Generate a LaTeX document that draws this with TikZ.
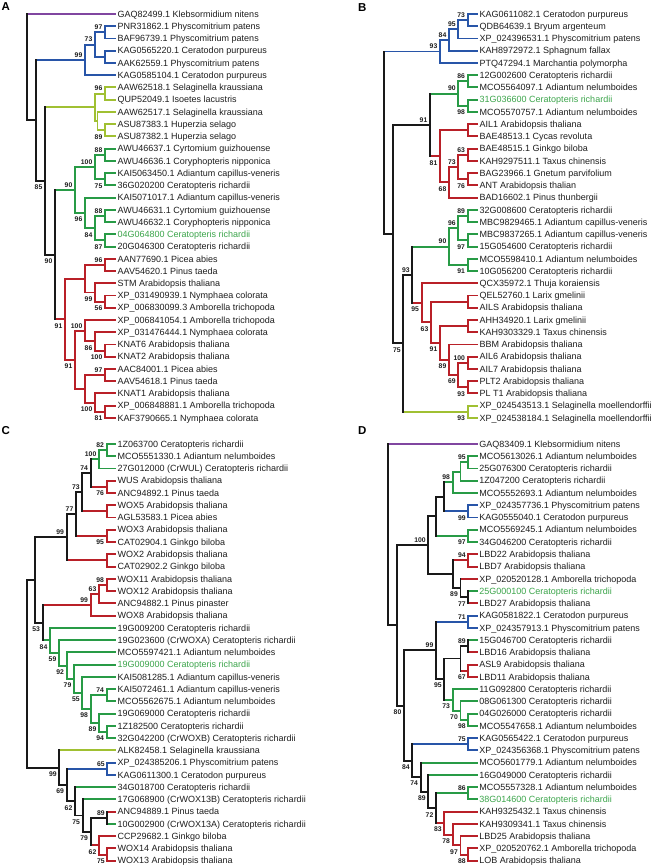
\documentclass[tikz,border=0pt]{standalone}
\usepackage{fontspec}
\setmainfont{Liberation Sans}
\usetikzlibrary{calc}
\definecolor{pur}{RGB}{128,70,160}
\definecolor{blu}{RGB}{40,85,168}
\definecolor{yg}{RGB}{160,192,50}
\definecolor{grn}{RGB}{40,155,70}
\definecolor{rd}{RGB}{185,32,40}
\definecolor{blk}{RGB}{25,25,25}
\definecolor{gtx}{RGB}{60,165,75}
\definecolor{txt}{RGB}{30,30,30}
\newcommand\LF[4]{%
  \coordinate (#1) at (\lfx,{\ybase+\ystep*#2});
  \expandafter\gdef\csname bc-#1\endcsname{#3}%
  \node[lf] (#1t) at (#1) {#4};}
\newcommand\LFG[4]{%
  \coordinate (#1) at (\lfx,{\ybase+\ystep*#2});
  \expandafter\gdef\csname bc-#1\endcsname{#3}%
  \node[lf,text=gtx] (#1t) at (#1) {#4};}
\newcommand\ND[5]{%
  \coordinate (#1m) at ($(#3)!0.5!(#4)$);
  \coordinate (#1) at (#2,0 |- #1m);
  \expandafter\gdef\csname bc-#1\endcsname{#5}%
  \edef\next{\noexpand\draw[br,draw=\csname bc-#3\endcsname] (#1 |- #3) -- (#3);
    \noexpand\draw[br,draw=\csname bc-#4\endcsname] (#1 |- #4) -- (#4);
    \noexpand\draw[br,draw=#5] (#1 |- #3) -- (#1 |- #4);}%
  \next}
\newcommand\BA[2]{\node[bs,xshift=-2.5pt,yshift=5pt] (#1l) at (#1) {#2};}
\newcommand\BB[2]{\node[bs,xshift=-2.5pt,yshift=-6.5pt] (#1l) at (#1) {#2};}
\begin{document}
\begin{tikzpicture}[x=1pt,y=-1pt,
  br/.style={line width=1.9pt,line cap=rect},
  lf/.style={anchor=base west,inner sep=0pt,xshift=2.5pt,yshift=-3.2pt,font=\fontsize{9}{10}\selectfont,text=txt},
  bs/.style={anchor=east,inner sep=0pt,font=\bfseries\fontsize{6.8}{7}\selectfont,text=txt},
  pl/.style={anchor=base west,inner sep=0pt,font=\bfseries\fontsize{11.5}{12}\selectfont,text=black}]
\fill[white] (0,0) rectangle (652,866);
\path[use as bounding box] (0,0) rectangle (652,866);
\node[pl] (pA) at (1.5,10.7) {A};
\node[pl] (pB) at (358,11.7) {B};
\node[pl] (pC) at (1.5,434) {C};
\node[pl] (pD) at (358,434) {D};
% ================= A =================
\def\lfx{115}\def\ybase{14}\def\ystep{12.24}
\LF{a0}{0}{pur}{GAQ82499.1 Klebsormidium nitens}
\LF{a1}{1}{blu}{PNR31862.1 Physcomitrium patens}
\LF{a2}{2}{blu}{BAF96739.1 Physcomitrium patens}
\LF{a3}{3}{blu}{KAG0565220.1 Ceratodon purpureus}
\LF{a4}{4}{blu}{AAK62559.1 Physcomitrium patens}
\LF{a5}{5}{blu}{KAG0585104.1 Ceratodon purpureus}
\LF{a6}{6}{yg}{AAW62518.1 Selaginella kraussiana}
\LF{a7}{7}{yg}{QUP52049.1 Isoetes lacustris}
\LF{a8}{8}{yg}{AAW62517.1 Selaginella kraussiana}
\LF{a9}{9}{yg}{ASU87383.1 Huperzia selago}
\LF{a10}{10}{yg}{ASU87382.1 Huperzia selago}
\LF{a11}{11}{grn}{AWU46637.1 Cyrtomium guizhouense}
\LF{a12}{12}{grn}{AWU46636.1 Coryphopteris nipponica}
\LF{a13}{13}{grn}{KAI5063450.1 Adiantum capillus-veneris}
\LF{a14}{14}{grn}{36G020200 Ceratopteris richardii}
\LF{a15}{15}{grn}{KAI5071017.1 Adiantum capillus-veneris}
\LF{a16}{16}{grn}{AWU46631.1 Cyrtomium guizhouense}
\LF{a17}{17}{grn}{AWU46632.1 Coryphopteris nipponica}
\LFG{a18}{18}{grn}{04G064800 Ceratopteris richardii}
\LF{a19}{19}{grn}{20G046300 Ceratopteris richardii}
\LF{a20}{20}{rd}{AAN77690.1 Picea abies}
\LF{a21}{21}{rd}{AAV54620.1 Pinus taeda}
\LF{a22}{22}{rd}{STM Arabidopsis thaliana}
\LF{a23}{23}{rd}{XP\_031490939.1 Nymphaea colorata}
\LF{a24}{24}{rd}{XP\_006830099.3 Amborella trichopoda}
\LF{a25}{25}{rd}{XP\_006841054.1 Amborella trichopoda}
\LF{a26}{26}{rd}{XP\_031476444.1 Nymphaea colorata}
\LF{a27}{27}{rd}{KNAT6 Arabidopsis thaliana}
\LF{a28}{28}{rd}{KNAT2 Arabidopsis thaliana}
\LF{a29}{29}{rd}{AAC84001.1 Picea abies}
\LF{a30}{30}{rd}{AAV54618.1 Pinus taeda}
\LF{a31}{31}{rd}{KNAT1 Arabidopsis thaliana}
\LF{a32}{32}{rd}{XP\_006848881.1 Amborella trichopoda}
\LF{a33}{33}{rd}{KAF3790665.1 Nymphaea colorata}
\ND{aB3}{105}{a1}{a2}{blu}\BA{aB3}{97}
\ND{aB4}{105}{a3}{a4}{blu}
\ND{aB2}{95}{aB3}{aB4}{blu}\BA{aB2}{73}
\ND{aB1}{85}{aB2}{a5}{blu}\BA{aB1}{99}
\ND{aY2}{105}{a6}{a7}{yg}\BA{aY2}{96}
\ND{aY4}{105}{a9}{a10}{yg}\BB{aY4}{89}
\ND{aY3}{97.5}{a8}{aY4}{yg}
\ND{aY1}{95}{aY2}{aY3}{yg}
\ND{aG3}{105}{a11}{a12}{grn}\BA{aG3}{88}
\ND{aG4}{105}{a13}{a14}{grn}\BB{aG4}{75}
\ND{aG2}{95}{aG3}{aG4}{grn}\BA{aG2}{100}
\ND{aG7}{105}{a16}{a17}{grn}\BA{aG7}{88}
\ND{aG8}{105}{a18}{a19}{grn}\BB{aG8}{87}
\ND{aG6}{95}{aG7}{aG8}{grn}\BB{aG6}{84}
\ND{aG5}{85}{a15}{aG6}{grn}\BB{aG5}{96}
\ND{aG1}{75}{aG2}{aG5}{grn}\BA{aG1}{90}
\ND{aRa}{105}{a20}{a21}{rd}\BA{aRa}{96}
\ND{aRc}{105}{a23}{a24}{rd}\BB{aRc}{56}
\ND{aRb}{95}{a22}{aRc}{rd}\BB{aRb}{99}
\ND{aRab}{85}{aRa}{aRb}{rd}
\ND{aRg}{105}{a27}{a28}{rd}\BB{aRg}{100}
\ND{aRf}{95}{a26}{aRg}{rd}\BB{aRf}{86}
\ND{aRe}{85}{a25}{aRf}{rd}\BA{aRe}{100}
\ND{aRi}{105}{a29}{a30}{rd}\BA{aRi}{97}
\ND{aRk}{105}{a32}{a33}{rd}\BB{aRk}{81}
\ND{aRj}{95}{a31}{aRk}{rd}\BB{aRj}{100}
\ND{aRh}{85}{aRi}{aRj}{rd}
\ND{aRd}{75}{aRe}{aRh}{rd}\BB{aRd}{91}
\ND{aR1}{65}{aRab}{aRd}{rd}\BB{aR1}{91}
\ND{aN3}{55}{aG1}{aR1}{blk}\BB{aN3}{90}
\ND{aN2}{45}{aY1}{aN3}{blk}\BB{aN2}{85}
\ND{aN1}{36}{aB1}{aN2}{blk}
\ND{aR}{27}{a0}{aN1}{blk}
% ================= B =================
\def\lfx{477}\def\ybase{14}\def\ystep{12.24}
\LF{b0}{0}{blu}{KAG0611082.1 Ceratodon purpureus}
\LF{b1}{1}{blu}{QDB64639.1 Bryum argenteum}
\LF{b2}{2}{blu}{XP\_024396531.1 Physcomitrium patens}
\LF{b3}{3}{blu}{KAH8972972.1 Sphagnum fallax}
\LF{b4}{4}{blu}{PTQ47294.1 Marchantia polymorpha}
\LF{b5}{5}{grn}{12G002600 Ceratopteris richardii}
\LF{b6}{6}{grn}{MCO5564097.1 Adiantum nelumboides}
\LFG{b7}{7}{grn}{31G036600 Ceratopteris richardii}
\LF{b8}{8}{grn}{MCO5570757.1 Adiantum nelumboides}
\LF{b9}{9}{rd}{AIL1 Arabidopsis thaliana}
\LF{b10}{10}{rd}{BAE48513.1 Cycas revoluta}
\LF{b11}{11}{rd}{BAE48515.1 Ginkgo biloba}
\LF{b12}{12}{rd}{KAH9297511.1 Taxus chinensis}
\LF{b13}{13}{rd}{BAG23966.1 Gnetum parvifolium}
\LF{b14}{14}{rd}{ANT Arabidopsis thalian}
\LF{b15}{15}{rd}{BAD16602.1 Pinus thunbergii}
\LF{b16}{16}{grn}{32G008600 Ceratopteris richardii}
\LF{b17}{17}{grn}{MBC9829465.1 Adiantum capillus-veneris}
\LF{b18}{18}{grn}{MBC9837265.1 Adiantum capillus-veneris}
\LF{b19}{19}{grn}{15G054600 Ceratopteris richardii}
\LF{b20}{20}{grn}{MCO5598410.1 Adiantum nelumboides}
\LF{b21}{21}{grn}{10G056200 Ceratopteris richardii}
\LF{b22}{22}{rd}{QCX35972.1 Thuja koraiensis}
\LF{b23}{23}{rd}{QEL52760.1 Larix gmelinii}
\LF{b24}{24}{rd}{AILS Arabidopsis thaliana}
\LF{b25}{25}{rd}{AHH34920.1 Larix gmelinii}
\LF{b26}{26}{rd}{KAH9303329.1 Taxus chinensis}
\LF{b27}{27}{rd}{BBM Arabidopsis thaliana}
\LF{b28}{28}{rd}{AIL6 Arabidopsis thaliana}
\LF{b29}{29}{rd}{AIL7 Arabidopsis thaliana}
\LF{b30}{30}{rd}{PLT2 Arabidopsis thaliana}
\LF{b31}{31}{rd}{PL T1 Arabidopsis thaliana}
\LF{b32}{32}{yg}{XP\_024543513.1 Selaginella moellendorffii}
\LF{b33}{33}{yg}{XP\_024538184.1 Selaginella moellendorffii}
\ND{bb1}{467.7}{b0}{b1}{blu}\BA{bb1}{73}
\ND{bb2}{458.3}{bb1}{b2}{blu}\BA{bb2}{95}
\ND{bb3}{449}{bb2}{b3}{blu}\BA{bb3}{84}
\ND{bb4}{440}{bb3}{b4}{blu}\BA{bb4}{93}
\ND{bg2}{467.7}{b5}{b6}{grn}\BA{bg2}{86}
\ND{bg3}{467.7}{b7}{b8}{grn}\BB{bg3}{98}
\ND{bg1}{458.3}{bg2}{bg3}{grn}\BA{bg1}{90}
\ND{br2}{467.7}{b9}{b10}{rd}
\ND{br5}{467.7}{b11}{b12}{rd}\BA{br5}{63}
\ND{br6}{467.7}{b13}{b14}{rd}\BB{br6}{76}
\ND{br4}{458.3}{br5}{br6}{rd}\BA{br4}{73}
\ND{br3}{449}{br4}{b15}{rd}\BB{br3}{68}
\ND{br1}{440}{br2}{br3}{rd}\BB{br1}{81}
\ND{bQ}{430}{bg1}{br1}{blk}\BA{bQ}{91}
\ND{bgg3}{467.7}{b16}{b17}{grn}\BA{bgg3}{89}
\ND{bgg4}{467.7}{b18}{b19}{grn}\BB{bgg4}{97}
\ND{bgg2}{458.3}{bgg3}{bgg4}{grn}\BA{bgg2}{96}
\ND{bgg5}{467.7}{b20}{b21}{grn}\BB{bgg5}{91}
\ND{bgg1}{449}{bgg2}{bgg5}{grn}\BA{bgg1}{90}
\ND{brr3}{467.7}{b23}{b24}{rd}
\ND{brr5}{467.7}{b25}{b26}{rd}
\ND{brr8}{467.7}{b28}{b29}{rd}\BA{brr8}{100}
\ND{brr9}{467.7}{b30}{b31}{rd}\BB{brr9}{93}
\ND{brr7}{458.3}{brr8}{brr9}{rd}\BB{brr7}{69}
\ND{brr6}{449}{b27}{brr7}{rd}\BB{brr6}{89}
\ND{brr4}{440}{brr5}{brr6}{rd}\BB{brr4}{91}
\ND{brr2}{431}{brr3}{brr4}{rd}\BB{brr2}{63}
\ND{brr1}{421.7}{b22}{brr2}{rd}\BB{brr1}{95}
\ND{bT}{412.3}{bgg1}{brr1}{blk}\BA{bT}{93}
\ND{bsel}{467.7}{b32}{b33}{yg}\BB{bsel}{93}
\ND{bS}{403.3}{bT}{bsel}{blk}\BB{bS}{75}
\ND{bP}{393.3}{bQ}{bS}{blk}
\ND{bR}{384.3}{bb4}{bP}{blk}
% ================= C =================
\def\lfx{115}\def\ybase{444}\def\ystep{12.255}
\LF{c0}{0}{grn}{1Z063700 Ceratopteris richardii}
\LF{c1}{1}{grn}{MCO5551330.1 Adiantum nelumboides}
\LF{c2}{2}{grn}{27G012000 (CrWUL) Ceratopteris richardii}
\LF{c3}{3}{rd}{WUS Arabidopsis thaliana}
\LF{c4}{4}{rd}{ANC94892.1 Pinus taeda}
\LF{c5}{5}{rd}{WOX5 Arabidopsis thaliana}
\LF{c6}{6}{rd}{AGL53583.1 Picea abies}
\LF{c7}{7}{rd}{WOX3 Arabidopsis thaliana}
\LF{c8}{8}{rd}{CAT02904.1 Ginkgo biloba}
\LF{c9}{9}{rd}{WOX2 Arabidopsis thaliana}
\LF{c10}{10}{rd}{CAT02902.2 Ginkgo biloba}
\LF{c11}{11}{rd}{WOX11 Arabidopsis thaliana}
\LF{c12}{12}{rd}{WOX12 Arabidopsis thaliana}
\LF{c13}{13}{rd}{ANC94882.1 Pinus pinaster}
\LF{c14}{14}{rd}{WOX8 Arabidopsis thaliana}
\LF{c15}{15}{grn}{19G009200 Ceratopteris richardii}
\LF{c16}{16}{grn}{19G023600 (CrWOXA) Ceratopteris richardii}
\LF{c17}{17}{grn}{MCO5597421.1 Adiantum nelumboides}
\LFG{c18}{18}{grn}{19G009000 Ceratopteris richardii}
\LF{c19}{19}{grn}{KAI5081285.1 Adiantum capillus-veneris}
\LF{c20}{20}{grn}{KAI5072461.1 Adiantum capillus-veneris}
\LF{c21}{21}{grn}{MCO5562675.1 Adiantum nelumboides}
\LF{c22}{22}{grn}{19G069000 Ceratopteris richardii}
\LF{c23}{23}{grn}{1Z182500 Ceratopteris richardii}
\LF{c24}{24}{grn}{32G042200 (CrWOXB) Ceratopteris richardii}
\LF{c25}{25}{yg}{ALK82458.1 Selaginella kraussiana}
\LF{c26}{26}{blu}{XP\_024385206.1 Physcomitrium patens}
\LF{c27}{27}{blu}{KAG0611300.1 Ceratodon purpureus}
\LF{c28}{28}{grn}{34G018700 Ceratopteris richardii}
\LF{c29}{29}{grn}{17G068900 (CrWOX13B) Ceratopteris richardii}
\LF{c30}{30}{rd}{ANC94889.1 Pinus taeda}
\LF{c31}{31}{grn}{10G002900 (CrWOX13A) Ceratopteris richardii}
\LF{c32}{32}{rd}{CCP29682.1 Ginkgo biloba}
\LF{c33}{33}{rd}{WOX14 Arabidopsis thaliana}
\LF{c34}{34}{rd}{WOX13 Arabidopsis thaliana}
\ND{cg2}{106.7}{c0}{c1}{grn}\BA{cg2}{82}
\ND{cg1}{99}{cg2}{c2}{grn}\BA{cg1}{100}
\ND{cr1}{106.7}{c3}{c4}{rd}\BB{cr1}{76}
\ND{cn1}{90.7}{cg1}{cr1}{blk}\BA{cn1}{74}
\ND{cr2}{106.7}{c5}{c6}{rd}
\ND{cn2}{82.3}{cn1}{cr2}{blk}\BA{cn2}{73}
\ND{cr3}{106.7}{c7}{c8}{rd}\BB{cr3}{95}
\ND{cn3}{76}{cn2}{cr3}{blk}\BA{cn3}{77}
\ND{cr4}{106.7}{c9}{c10}{rd}
\ND{cn4}{66.7}{cn3}{cr4}{blk}\BA{cn4}{99}
\ND{cr5}{106.7}{c11}{c12}{rd}\BA{cr5}{98}
\ND{cr6}{99}{cr5}{c13}{rd}\BA{cr6}{63}
\ND{cr7}{90.7}{cr6}{c14}{rd}\BA{cr7}{99}
\ND{cgi}{106.7}{c23}{c24}{grn}\BB{cgi}{94}
\ND{cgh}{99}{c22}{cgi}{grn}\BB{cgh}{89}
\ND{cgg}{106.7}{c20}{c21}{grn}\BA{cgg}{74}
\ND{cgf}{90.7}{cgg}{cgh}{grn}\BB{cgf}{98}
\ND{cge}{82.3}{c19}{cgf}{grn}\BB{cge}{55}
\ND{cgd}{74}{c18}{cge}{grn}\BB{cgd}{79}
\ND{cgc}{66.7}{c17}{cgd}{grn}\BB{cgc}{92}
\ND{cgb}{59}{c16}{cgc}{grn}\BB{cgb}{59}
\ND{cga}{50}{c15}{cgb}{grn}\BB{cga}{84}
\ND{cn5}{42.7}{cr7}{cga}{blk}\BB{cn5}{53}
\ND{cn6}{35}{cn4}{cn5}{blk}
\ND{cc14}{107.3}{c33}{c34}{rd}\BB{cc14}{75}
\ND{cc13}{99}{c32}{cc14}{rd}\BB{cc13}{62}
\ND{cc12}{107.3}{c30}{c31}{blk}\BA{cc12}{89}
\ND{cc11}{90.7}{cc12}{cc13}{blk}\BB{cc11}{79}
\ND{cc10}{82.7}{c29}{cc11}{blk}\BB{cc10}{75}
\ND{cc9}{75}{c28}{cc10}{blk}\BB{cc9}{62}
\ND{ccb}{107.3}{c26}{c27}{blu}\BA{ccb}{65}
\ND{cc8}{66.7}{ccb}{cc9}{blk}\BB{cc8}{69}
\ND{cc7}{59.3}{c25}{cc8}{blk}\BB{cc7}{99}
\ND{cR}{26.7}{cn6}{cc7}{blk}
% ================= D =================
\def\lfx{476.7}\def\ybase{444}\def\ystep{12.255}
\LF{d0}{0}{pur}{GAQ83409.1 Klebsormidium nitens}
\LF{d1}{1}{grn}{MCO5613026.1 Adiantum nelumboides}
\LF{d2}{2}{grn}{25G076300 Ceratopteris richardii}
\LF{d3}{3}{grn}{1Z047200 Ceratopteris richardii}
\LF{d4}{4}{grn}{MCO5552693.1 Adiantum nelumboides}
\LF{d5}{5}{blu}{XP\_024357736.1 Physcomitrium patens}
\LF{d6}{6}{blu}{KAG0555040.1 Ceratodon purpureus}
\LF{d7}{7}{grn}{MCO5569245.1 Adiantum nelumboides}
\LF{d8}{8}{grn}{34G046200 Ceratopteris richardii}
\LF{d9}{9}{rd}{LBD22 Arabidopsis thaliana}
\LF{d10}{10}{rd}{LBD7 Arabidopsis thaliana}
\LF{d11}{11}{rd}{XP\_020520128.1 Amborella trichopoda}
\LFG{d12}{12}{grn}{25G000100 Ceratopteris richardii}
\LF{d13}{13}{rd}{LBD27 Arabidopsis thaliana}
\LF{d14}{14}{blu}{KAG0581822.1 Ceratodon purpureus}
\LF{d15}{15}{blu}{XP\_024357913.1 Physcomitrium patens}
\LF{d16}{16}{grn}{15G046700 Ceratopteris richardii}
\LF{d17}{17}{rd}{LBD16 Arabidopsis thaliana}
\LF{d18}{18}{rd}{ASL9 Arabidopsis thaliana}
\LF{d19}{19}{rd}{LBD11 Arabidopsis thaliana}
\LF{d20}{20}{grn}{11G092800 Ceratopteris richardii}
\LF{d21}{21}{grn}{08G061300 Ceratopteris richardii}
\LF{d22}{22}{grn}{04G026000 Ceratopteris richardii}
\LF{d23}{23}{grn}{MCO5547658.1 Adiantum nelumboides}
\LF{d24}{24}{blu}{KAG0565422.1 Ceratodon purpureus}
\LF{d25}{25}{blu}{XP\_024356368.1 Physcomitrium patens}
\LF{d26}{26}{grn}{MCO5601779.1 Adiantum nelumboides}
\LF{d27}{27}{grn}{16G049000 Ceratopteris richardii}
\LF{d28}{28}{grn}{MCO5557328.1 Adiantum nelumboides}
\LFG{d29}{29}{grn}{38G014600 Ceratopteris richardii}
\LF{d30}{30}{rd}{KAH9325432.1 Taxus chinensis}
\LF{d31}{31}{rd}{KAH9309341.1 Taxus chinensis}
\LF{d32}{32}{rd}{LBD25 Arabidopsis thaliana}
\LF{d33}{33}{rd}{XP\_020520762.1 Amborella trichopoda}
\LF{d34}{34}{rd}{LOB Arabidopsis thaliana}
\ND{dg1}{468.3}{d1}{d2}{grn}\BA{dg1}{95}
\ND{dg2}{460.5}{dg1}{d3}{grn}
\ND{dg3}{452.7}{dg2}{d4}{grn}\BA{dg3}{98}
\ND{db1}{468.3}{d5}{d6}{blu}\BB{db1}{99}
\ND{dn1}{444.3}{dg3}{db1}{blk}
\ND{dg4}{468.3}{d7}{d8}{grn}\BB{dg4}{97}
\ND{dn2}{436}{dn1}{dg4}{blk}
\ND{dr1}{468.3}{d9}{d10}{rd}\BA{dr1}{94}
\ND{dr2}{468.3}{d12}{d13}{blk}\BB{dr2}{77}
\ND{dr3}{460.5}{d11}{dr2}{blk}\BB{dr3}{89}
\ND{dr4}{452.7}{dr1}{dr3}{blk}
\ND{dn3}{428.3}{dn2}{dr4}{blk}\BA{dn3}{100}
\ND{db2}{468.3}{d14}{d15}{blu}\BA{db2}{71}
\ND{dm1}{468.3}{d16}{d17}{blk}\BA{dm1}{89}
\ND{dr5}{468.3}{d18}{d19}{rd}\BB{dr5}{67}
\ND{dn4}{460.5}{dm1}{dr5}{blk}
\ND{dgc}{468.3}{d22}{d23}{grn}\BB{dgc}{98}
\ND{dgb}{460.5}{d21}{dgc}{grn}\BB{dgb}{70}
\ND{dga}{452.7}{d20}{dgb}{grn}\BB{dga}{73}
\ND{dn5}{444.3}{dn4}{dga}{blk}\BB{dn5}{95}
\ND{dn6}{436}{db2}{dn5}{blk}\BA{dn6}{99}
\ND{db3}{468.3}{d24}{d25}{blu}\BA{db3}{75}
\ND{dg6}{468.3}{d28}{d29}{grn}\BA{dg6}{86}
\ND{dr6}{468.3}{d33}{d34}{rd}\BB{dr6}{88}
\ND{dr7}{460.5}{d32}{dr6}{rd}\BB{dr7}{97}
\ND{dr8}{452.7}{d31}{dr7}{rd}\BB{dr8}{78}
\ND{dr9}{444.3}{d30}{dr8}{rd}\BB{dr9}{83}
\ND{dn8}{436}{dg6}{dr9}{blk}\BB{dn8}{72}
\ND{dn9}{428.3}{d27}{dn8}{blk}\BB{dn9}{89}
\ND{dn10}{420.7}{d26}{dn9}{blk}\BB{dn10}{74}
\ND{dn11}{412.3}{db3}{dn10}{blk}\BB{dn11}{84}
\ND{dn12}{404}{dn6}{dn11}{blk}\BB{dn12}{80}
\ND{dn13}{396.7}{dn3}{dn12}{blk}
\ND{dR}{388.3}{d0}{dn13}{blk}
\end{tikzpicture}
\end{document}
